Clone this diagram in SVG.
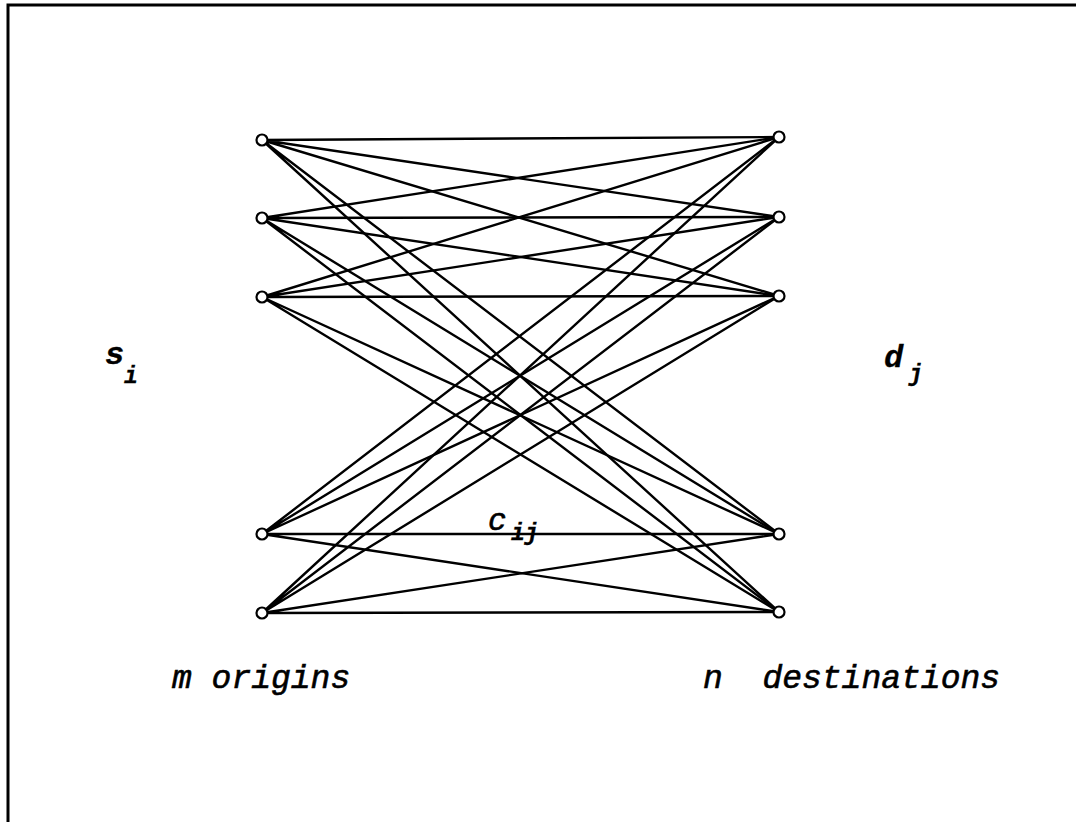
<svg xmlns="http://www.w3.org/2000/svg" width="1076" height="822" viewBox="0 0 1076 822">
<style>
.e{stroke:#000;stroke-width:2.4;fill:none}
.n{fill:#fff;stroke:#000;stroke-width:2.2}
.t{font-family:"Liberation Mono","Courier New",monospace;font-style:italic;fill:#000;stroke:#000;stroke-width:0.6;white-space:pre}
.b{font-weight:bold;stroke-width:0.3}
</style>
<rect width="1076" height="822" fill="#fff"/>
<path d="M8,822 V5 H1076" fill="none" stroke="#000" stroke-width="3"/>
<g id="connectors">
<path class="e" d="M262,140 L779,137 M262,140 L779,217 M262,140 L779,296 M262,140 L779,534 M262,140 L779,612"/>
<path class="e" d="M262,218 L779,137 M262,218 L779,217 M262,218 L779,296 M262,218 L779,534 M262,218 L779,612"/>
<path class="e" d="M262,297 L779,137 M262,297 L779,217 M262,297 L779,296 M262,297 L779,534 M262,297 L779,612"/>
<path class="e" d="M262,534 L779,137 M262,534 L779,217 M262,534 L779,296 M262,534 L779,534 M262,534 L779,612"/>
<path class="e" d="M262,613 L779,137 M262,613 L779,217 M262,613 L779,296 M262,613 L779,534 M262,613 L779,612"/>
</g>
<g id="o1"><circle class="n" cx="262" cy="140" r="5.5"/></g>
<g id="o2"><circle class="n" cx="262" cy="218" r="5.5"/></g>
<g id="o3"><circle class="n" cx="262" cy="297" r="5.5"/></g>
<g id="o4"><circle class="n" cx="262" cy="534" r="5.5"/></g>
<g id="o5"><circle class="n" cx="262" cy="613" r="5.5"/></g>
<g id="d1"><circle class="n" cx="779" cy="137" r="5.5"/></g>
<g id="d2"><circle class="n" cx="779" cy="217" r="5.5"/></g>
<g id="d3"><circle class="n" cx="779" cy="296" r="5.5"/></g>
<g id="d4"><circle class="n" cx="779" cy="534" r="5.5"/></g>
<g id="d5"><circle class="n" cx="779" cy="612" r="5.5"/></g>
<g id="labels">
<text class="t b" x="105" y="364" font-size="32">s</text>
<text class="t b" x="124" y="383" font-size="23">i</text>
<text class="t b" x="884" y="367" font-size="32">d</text>
<text class="t b" x="909" y="381" font-size="23">j</text>
<text class="t" x="488" y="530" font-size="31">c</text>
<text class="t b" x="511" y="540" font-size="23">ij</text>
<text class="t" x="172" y="688" font-size="33" xml:space="preserve">m origins</text>
<text class="t" x="703" y="688" font-size="33" xml:space="preserve">n  destinations</text>
</g>
</svg>
